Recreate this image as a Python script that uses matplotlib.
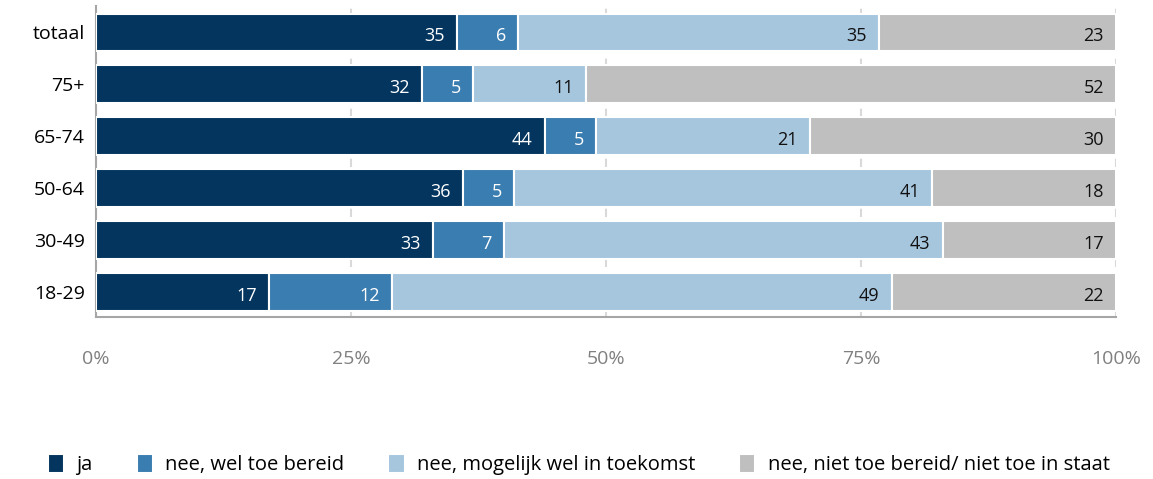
import numpy as np
import matplotlib
matplotlib.use("Agg")
import matplotlib.pyplot as plt

plt.rcParams['font.family'] = ['Open Sans', 'DejaVu Sans']

categories = ['totaal', '75+', '65-74', '50-64', '30-49', '18-29']
series = ['ja', 'nee, wel toe bereid', 'nee, mogelijk wel in toekomst',
          'nee, niet toe bereid/ niet toe in staat']
ja = [35, 32, 44, 36, 33, 17]
wel_bereid = [6, 5, 5, 5, 7, 12]
toekomst = [35, 11, 21, 41, 43, 49]
niet = [23, 52, 30, 18, 17, 22]
colors = ['#03355E', '#3A7DB0', '#A6C6DE', '#BFBFBF']
text_colors = ['white', 'white', '#111111', '#111111']

data = np.array([ja, wel_bereid, toekomst, niet], dtype=float)
# rows are rounded; scale each bar to fill 100%
shares = data / data.sum(axis=0) * 100

fig = plt.figure(figsize=(11.53, 4.79), dpi=100)
ax = fig.add_axes([0.0833, 0.338, 0.8847, 0.649])

y = np.arange(len(categories))[::-1]
left = np.zeros(len(categories))
for raw, vals, name, col, tc in zip(data, shares, series, colors, text_colors):
    ax.barh(y, vals, left=left, height=0.72, color=col, edgecolor='white',
            linewidth=1.5, label=name, zorder=3)
    for yi, l, v, r in zip(y, left, vals, raw):
        ax.text(l + v - 1.2, yi - 0.08, '%d' % r, ha='right', va='center',
                color=tc, fontsize=13, zorder=4)
    left += vals

ax.set_xlim(0, 100)
ax.set_ylim(-0.48, 5.5)
ax.set_yticks(y)
ax.set_yticklabels(categories, fontsize=14)
ax.set_xticks([0, 25, 50, 75, 100])
ax.set_xticklabels(['0%', '25%', '50%', '75%', '100%'], fontsize=14, color='#808080')
ax.tick_params(axis='both', length=0)
ax.tick_params(axis='x', pad=24)
ax.tick_params(axis='y', pad=8)
ax.grid(axis='x', color='#D9D9D9', linestyle=(0, (4, 4)), linewidth=1.5, zorder=0)
for s in ['top', 'right']:
    ax.spines[s].set_visible(False)
ax.spines['left'].set_color('#A6A6A6')
ax.spines['bottom'].set_color('#A6A6A6')
ax.spines['left'].set_linewidth(1.5)
ax.spines['bottom'].set_linewidth(1.5)

fig.legend(loc='lower center', bbox_to_anchor=(0.502, -0.03), ncol=4, frameon=False,
           fontsize=14.5, handlelength=0.8, handleheight=1.1, handletextpad=0.6,
           columnspacing=2.2)

fig.savefig('out.png', dpi=100)
